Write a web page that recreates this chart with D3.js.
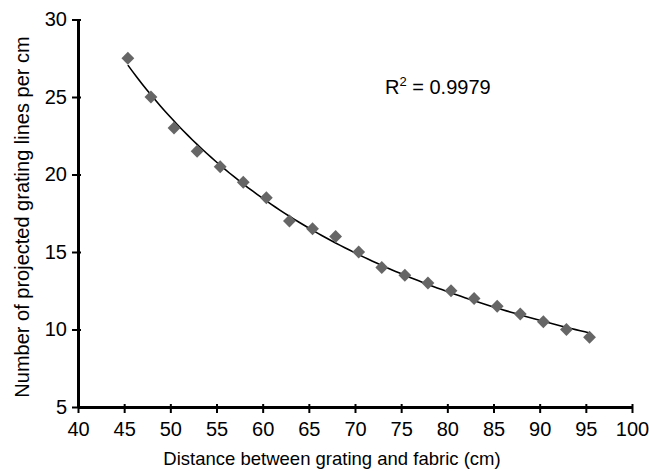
<!DOCTYPE html>
<html>
<head>
<meta charset="utf-8">
<script src="https://cdn.jsdelivr.net/npm/d3@7"></script>
<style>
  body { margin: 0; background: #fff; }
  text { font-family: "Liberation Sans", Arial, sans-serif; }
</style>
</head>
<body>
<svg id="chart" width="649" height="471"></svg>
<script>
// distance between grating and fabric (cm)
var distances = [45.4, 47.9, 50.4, 52.9, 55.4, 57.9, 60.4, 62.9, 65.4, 67.9, 70.4,
  72.9, 75.4, 77.9, 80.4, 82.9, 85.4, 87.9, 90.4, 92.9, 95.4];
// projected grating lines per cm
var lineCounts = [27.5, 25, 23, 21.5, 20.5, 19.5, 18.5, 17, 16.5, 16, 15,
  14, 13.5, 13, 12.5, 12, 11.5, 11, 10.5, 10, 9.5];
var xTicks = [40, 45, 50, 55, 60, 65, 70, 75, 80, 85, 90, 95, 100];
var yTicks = [5, 10, 15, 20, 25, 30];
var rSquared = "0.9979";

var svg = d3.select("#chart");
var x = d3.scaleLinear().domain([40, 100]).range([78, 632]);
var y = d3.scaleLinear().domain([5, 30]).range([407, 19.5]);

// power trendline y = a*x^b, least squares on logs
var lx = distances.map(Math.log), ly = lineCounts.map(Math.log);
var mx = d3.mean(lx), my = d3.mean(ly);
var b = d3.sum(lx, (v, i) => (v - mx) * (ly[i] - my)) / d3.sum(lx, v => (v - mx) * (v - mx));
var a = Math.exp(my - b * mx);
var fitXs = d3.range(0, 101).map(i => distances[0] + (distances[distances.length - 1] - distances[0]) * i / 100);

svg.append("path")
  .datum(fitXs)
  .attr("fill", "none")
  .attr("stroke", "#000")
  .attr("stroke-width", 1.6)
  .attr("d", d3.line().x(d => x(d)).y(d => y(a * Math.pow(d, b))));

svg.append("g").selectAll("path")
  .data(distances)
  .join("path")
  .attr("transform", (d, i) => "translate(" + x(d) + "," + y(lineCounts[i]) + ")")
  .attr("d", d3.symbol(d3.symbolDiamond2, 105))
  .attr("fill", "#666");

var xAxis = svg.append("g")
  .attr("transform", "translate(0," + y(5) + ")")
  .call(d3.axisBottom(x).tickValues(xTicks).tickSize(6).tickSizeOuter(0));
var yAxis = svg.append("g")
  .attr("transform", "translate(" + x(40) + ",0)")
  .call(d3.axisLeft(y).tickValues(yTicks).tickSize(6).tickSizeOuter(0));

[xAxis, yAxis].forEach(function (g) {
  g.select(".domain").attr("stroke", "#000").attr("stroke-width", 3);
  g.selectAll(".tick line").attr("stroke", "#000").attr("stroke-width", 2);
  g.selectAll(".tick text").attr("fill", "#000").style("font-size", "20px")
    .style("font-family", "'Liberation Sans', Arial, sans-serif");
});
xAxis.selectAll(".tick line").attr("y1", -3).attr("y2", 6);
xAxis.selectAll(".tick text").attr("y", 15);
yAxis.selectAll(".tick line").attr("x1", 3).attr("x2", -6);
yAxis.selectAll(".tick text").attr("x", -11);

svg.append("text")
  .attr("x", 332).attr("y", 465)
  .attr("text-anchor", "middle")
  .style("font-size", "18.5px")
  .text("Distance between grating and fabric (cm)");

svg.append("text")
  .attr("transform", "translate(29,217) rotate(-90)")
  .attr("text-anchor", "middle")
  .style("font-size", "20px")
  .text("Number of projected grating lines per cm");

var r2 = svg.append("text").attr("x", 385).attr("y", 94).style("font-size", "20px");
r2.append("tspan").text("R");
r2.append("tspan").attr("dy", -8).style("font-size", "13px").text("2");
r2.append("tspan").attr("dy", 8).text(" = " + rSquared);
</script>
</body>
</html>
